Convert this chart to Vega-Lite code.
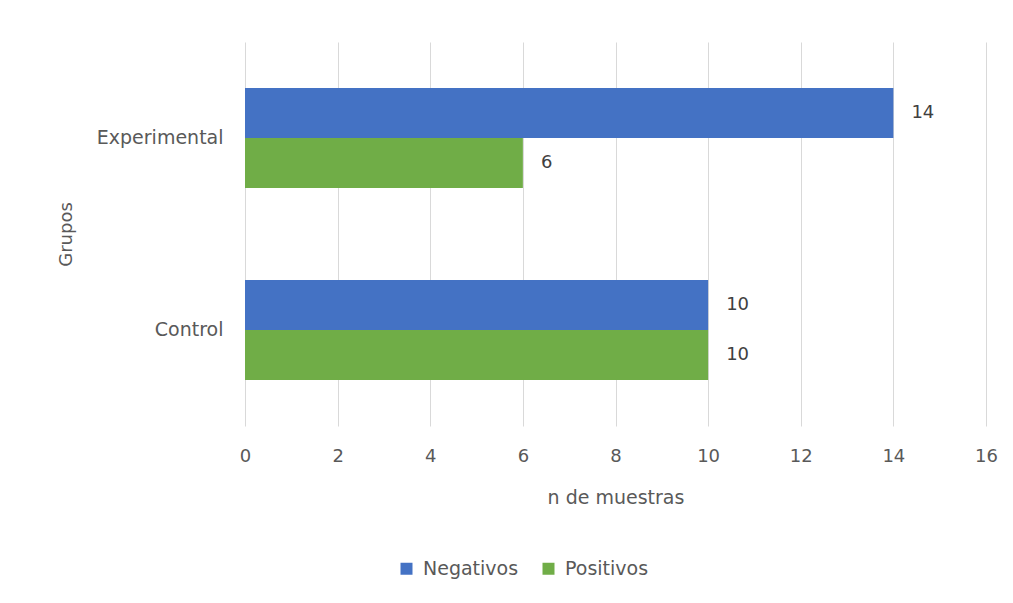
{
  "$schema": "https://vega.github.io/schema/vega-lite/v6.json",
  "width": 741,
  "height": 384,
  "autosize": {"type": "none"},
  "padding": {"left": 245, "top": 42, "right": 27, "bottom": 177},
  "background": "white",
  "config": {
    "view": {"stroke": null},
    "font": "DejaVu Sans",
    "axis": {"labelFont": "DejaVu Sans", "titleFont": "DejaVu Sans", "labelColor": "#595959", "titleColor": "#595959", "titleFontWeight": "normal"}
  },
  "data": {
    "values": [
      {"Grupo": "Experimental", "Serie": "Negativos", "n": 14},
      {"Grupo": "Experimental", "Serie": "Positivos", "n": 6},
      {"Grupo": "Control", "Serie": "Negativos", "n": 10},
      {"Grupo": "Control", "Serie": "Positivos", "n": 10}
    ]
  },
  "encoding": {
    "y": {
      "field": "Grupo", "type": "nominal", "sort": ["Experimental", "Control"],
      "scale": {"paddingInner": 0.479, "paddingOuter": 0.2396},
      "axis": {"title": "Grupos", "titleFontSize": 18, "labelFontSize": 19, "labelPadding": 22, "ticks": false, "domain": false, "labelAngle": 0, "titleX": -179, "titleY": 192, "titleAngle": -90, "titleAlign": "center", "titleBaseline": "middle"}
    },
    "yOffset": {"field": "Serie", "type": "nominal", "sort": ["Negativos", "Positivos"], "scale": {"paddingInner": 0, "paddingOuter": 0}},
    "x": {
      "field": "n", "type": "quantitative",
      "scale": {"domain": [0, 16], "nice": false},
      "axis": {"title": "n de muestras", "titleFontSize": 19, "labelFontSize": 18, "values": [0,2,4,6,8,10,12,14,16], "grid": true, "gridColor": "#D9D9D9", "ticks": false, "domain": false, "labelPadding": 21, "labelFlush": false, "titleY": 71, "titleBaseline": "middle"}
    }
  },
  "layer": [
    {
      "mark": {"type": "bar"},
      "encoding": {
        "color": {
          "field": "Serie", "type": "nominal",
          "scale": {"domain": ["Negativos", "Positivos"], "range": ["#4472C4", "#70AD47"]},
          "legend": {"title": null, "orient": "none", "direction": "horizontal", "legendX": 152, "legendY": 517, "symbolType": "square", "symbolSize": 144, "symbolStrokeWidth": 0, "labelFontSize": 19, "labelColor": "#595959", "labelFont": "DejaVu Sans", "columnPadding": 20, "labelOffset": 7}
        }
      }
    },
    {
      "mark": {"type": "text", "align": "left", "dx": 18, "fontSize": 18, "color": "#404040", "font": "DejaVu Sans"},
      "encoding": {"text": {"field": "n", "type": "quantitative"}}
    }
  ]
}
